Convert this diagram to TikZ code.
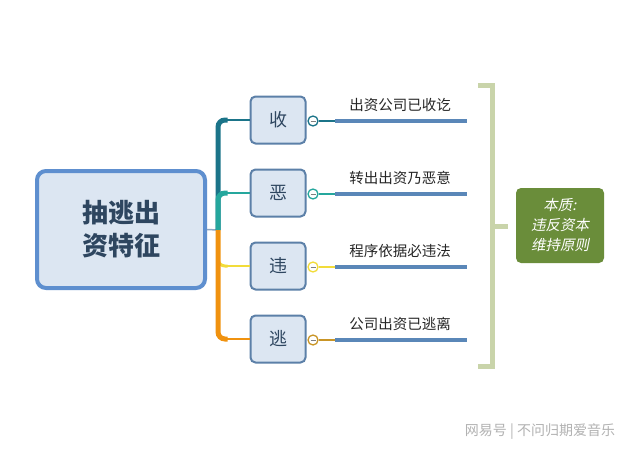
\documentclass[tikz,border=0pt]{standalone}
\usepackage{fontspec}
\setmainfont{Noto Sans CJK SC}
\newfontfamily\cjkslant[FakeSlant=0.2]{Noto Sans CJK SC}
\usetikzlibrary{positioning}

\begin{document}
\begin{tikzpicture}[x=1pt,y=-1pt,
  keybox/.style={draw=kFrame,line width=2pt,fill=kFill,rounded corners=5pt,
    minimum width=55pt,minimum height=47pt,text=kText,font=\fontsize{18}{18}\selectfont},
  knob/.style={circle,draw=#1,line width=1.3pt,fill=white,minimum size=10pt,inner sep=0pt},
  itemtext/.style={font=\fontsize{14.5}{14.5}\selectfont,text=black!85}]
  \definecolor{kFrame}{HTML}{5C80A8}
  \definecolor{kFill}{HTML}{DCE6F2}
  \definecolor{kText}{HTML}{2E4660}
  \definecolor{kMainFrame}{HTML}{5E8FCF}
  \definecolor{kTealDark}{HTML}{1B7489}
  \definecolor{kTeal}{HTML}{25A79D}
  \definecolor{kYellow}{HTML}{F2DC3A}
  \definecolor{kOrange}{HTML}{F0920F}
  \definecolor{kOchre}{HTML}{C99526}
  \definecolor{kLine}{HTML}{5A87B8}
  \definecolor{kBracket}{HTML}{C9D4AA}
  \definecolor{kGreen}{HTML}{6A8D3A}

  \useasboundingbox[fill=white] (0,0) rectangle (640,452);

  % main box
  \node[draw=kMainFrame,line width=4pt,fill=kFill,rounded corners=9pt,
    minimum width=168pt,minimum height=117pt,text=kText,align=center,
    font=\bfseries\fontsize{26}{33}\selectfont] (main) at (121,229.5) {抽逃出\\资特征};
  \coordinate (trunk) at (218,230);
  \draw[color=kFrame!70,line width=1.5pt] (main.east) -- (trunk);

  % boxes, knobs and lines
  \foreach \i/\y/\clr/\knb/\txt/\lbl in {
      1/120/kTealDark/kTealDark/收/出资公司已收讫,
      2/193/kTeal/kTeal/恶/转出出资乃恶意,
      3/266/kYellow/kYellow/违/程序依据必违法,
      4/339/kOrange/kOchre/逃/公司出资已逃离}
  {
    \node[keybox] (k\i) at (278,\y) {\txt};
    \node[knob=\knb] (c\i) at (313,\y+1) {};
    \draw[color=gray,line width=1pt] ([xshift=-2.5pt]c\i.center) -- ([xshift=2.5pt]c\i.center);
    \coordinate (s\i) at (335,\y+1);
    \coordinate (e\i) at (467,\y+1);
    \draw[color=\knb,line width=1.3pt] (c\i.east) -- (s\i);
    \draw[color=kLine,line width=4pt] (s\i) -- (e\i);
    \node[itemtext] (l\i) at (400,\y-15) {\lbl};
  }

  % branches
  \draw[color=kTealDark,line width=5pt,rounded corners=7pt] (trunk) |- ([xshift=-22pt]k1.west);
  \draw[color=kTealDark,line width=2pt] ([xshift=-23pt]k1.west) -- (k1.west);
  \draw[color=kTeal,line width=5pt,rounded corners=7pt] (trunk) |- ([xshift=-22pt]k2.west);
  \draw[color=kTeal,line width=2pt] ([xshift=-23pt]k2.west) -- (k2.west);
  \draw[color=kYellow,line width=3pt,rounded corners=7pt] (trunk) |- ([xshift=-22pt]k3.west);
  \draw[color=kYellow,line width=1.5pt] ([xshift=-23pt]k3.west) -- (k3.west);
  \draw[color=kOrange,line width=5pt,rounded corners=7pt] (trunk) |- ([xshift=-22pt]k4.west);
  \draw[color=kOrange,line width=2pt] ([xshift=-23pt]k4.west) -- (k4.west);

  % bracket
  \draw[color=kBracket,line width=5pt] (478,86) -- (492,86) -- (492,366) -- (478,366);
  \draw[color=kBracket,line width=5pt] (492,226) -- (508,226);

  % essence
  \node[fill=kGreen,rounded corners=5pt,minimum width=88pt,minimum height=75pt,
    text=white,align=center,font=\cjkslant\fontsize{14.5}{20}\selectfont] (core) at (560,225.5)
    {本质:\\违反资本\\维持原则};

  % watermark
  \node[text=black!30,font=\fontsize{14}{14}\selectfont] (mark) at (540,432) {网易号 | 不问归期爱音乐};
\end{tikzpicture}
\end{document}
